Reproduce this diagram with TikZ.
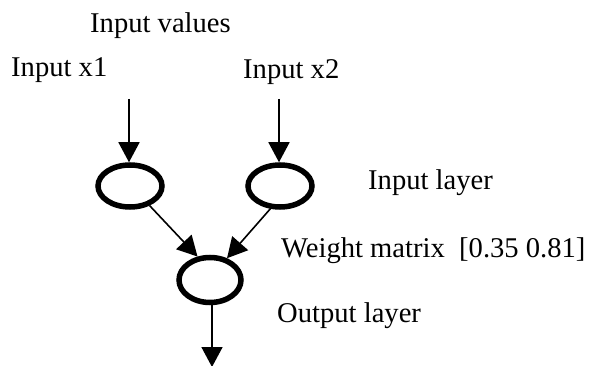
\documentclass[tikz,border=0pt]{standalone}
\usepackage{fontspec}
\setmainfont{Liberation Serif}
\usetikzlibrary{shapes.geometric,arrows.meta}
\begin{document}
\begin{tikzpicture}[x=1pt,y=-1pt,
  neuron/.style={ellipse,draw,line width=5.5pt,inner sep=0pt,minimum width=64pt,minimum height=42pt},
  conn/.style={line width=1.6pt,-{Triangle[length=20pt,width=21pt]}},
  lbl/.style={anchor=base west,inner sep=0pt,font=\fontsize{28.6}{32}\selectfont}]
\useasboundingbox (0,0) rectangle (592,366);
\node[neuron] (in1) at (130,186) {};
\node[neuron] (in2) at (280,186) {};
\node[neuron,minimum width=62pt,minimum height=45pt] (out) at (210,280) {};
\coordinate (s1) at (129,99);
\coordinate (s2) at (279,99);
\coordinate (e) at (212,367);
\draw[conn] (s1) -- (s1 |- in1.north);
\draw[conn] (s2) -- (s2 |- in2.north);
\draw[conn] (in1.-45) -- (out.118);
\draw[conn] (in2.-113) -- (out.52);
\draw[conn] (out.south -| e) -- (e);
\node[lbl] (tv) at (90,33) {Input values};
\node[lbl] (t1) at (11,77) {Input x1};
\node[lbl] (t2) at (243,79) {Input x2};
\node[lbl] (til) at (368,190) {Input layer};
\node[lbl] (tw) at (281,258) {Weight matrix\ \ [0.35 0.81]};
\node[lbl] (tol) at (277,323) {Output layer};
\end{tikzpicture}
\end{document}
